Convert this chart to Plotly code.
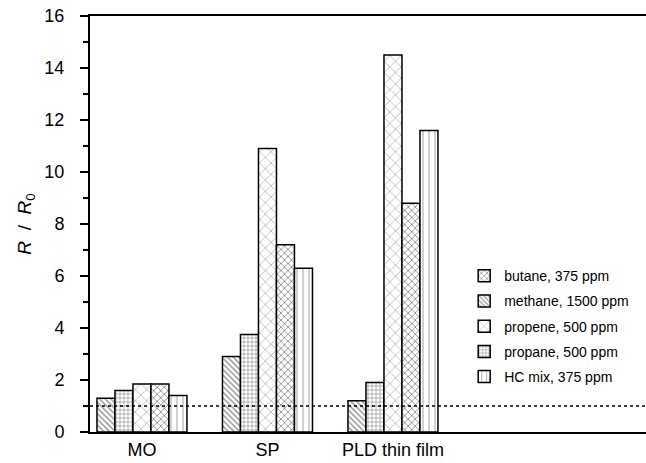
import plotly.graph_objects as go

categories = ["MO", "SP", "PLD thin film"]
series_names = ["methane, 1500 ppm", "propane, 500 ppm", "propene, 500 ppm", "butane, 375 ppm", "HC mix, 375 ppm"]
methane = [1.3, 2.9, 1.2]
propane = [1.6, 3.75, 1.9]
propene = [1.85, 10.9, 14.5]
butane = [1.85, 7.2, 8.8]
hc_mix = [1.4, 6.3, 11.6]
legend_rank = [2, 4, 3, 1, 5]
y_ticks = [0, 2, 4, 6, 8, 10, 12, 14, 16]

values = [methane, propane, propene, butane, hc_mix]
patterns = [
    dict(shape="\\", size=4, solidity=0.35, fgcolor="#222"),
    dict(shape="+", size=4, solidity=0.3, fgcolor="#222"),
    dict(shape="x", size=8, solidity=0.2, fgcolor="#777"),
    dict(shape="x", size=5, solidity=0.3, fgcolor="#111"),
    dict(shape="|", size=6, solidity=0.15, fgcolor="#333"),
]

fig = go.Figure()
for i, (name, vals) in enumerate(zip(series_names, values)):
    fig.add_trace(go.Bar(
        x=categories, y=vals, name=name,
        marker=dict(color="white", line=dict(color="black", width=1.5), pattern=patterns[i]),
        legendrank=legend_rank[i], legendgroup=name,
    ))

fig.add_shape(type="line", xref="paper", yref="y", x0=0, x1=1, y0=1, y1=1,
              line=dict(color="black", width=1.5, dash="dot"))
fig.add_shape(type="line", xref="paper", yref="y", x0=0, x1=0, y0=0, y1=-0.25,
              line=dict(color="black", width=2))

fig.update_layout(
    width=646, height=463,
    margin=dict(l=90, r=0, t=16, b=31),
    plot_bgcolor="white", paper_bgcolor="white",
    font=dict(family="Liberation Sans, Arial, sans-serif", color="black", size=18),
    barmode="group", bargap=0.283, bargroupgap=0,
    showlegend=True,
    legend=dict(x=0.673, y=0.413, xanchor="left", yanchor="top",
                font=dict(size=14), tracegroupgap=4, bgcolor="rgba(0,0,0,0)"),
)
fig.update_xaxes(
    type="category", range=[-0.414, 4.016], automargin=False,
    showline=True, linecolor="black", linewidth=2, mirror=True,
    ticks="", showgrid=False, zeroline=False,
    tickfont=dict(size=18), ticklabelstandoff=0,
)
fig.update_yaxes(
    range=[0, 16], tickvals=y_ticks, automargin=False,
    showline=True, linecolor="black", linewidth=2,
    ticks="outside", ticklen=8, tickwidth=2, tickcolor="black",
    minor=dict(dtick=1, ticks="outside", ticklen=5, tickwidth=2, tickcolor="black"),
    showgrid=False, zeroline=False,
    tickfont=dict(size=18), ticklabelstandoff=12,
    title=dict(text="<i>R</i>  /  <i>R</i><sub>0</sub>", font=dict(size=19), standoff=8),
)

fig.write_html("out.html", config={"displayModeBar": False},
               post_script="document.body.style.margin='0';")
